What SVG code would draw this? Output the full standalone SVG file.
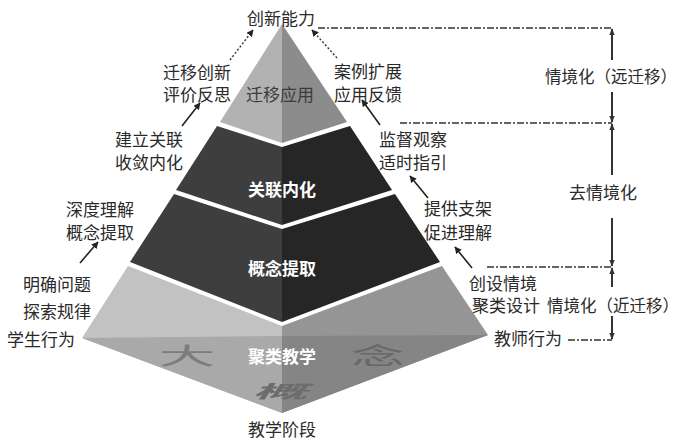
<svg xmlns="http://www.w3.org/2000/svg" width="681" height="441" viewBox="0 0 681 441">
<defs>
<style>
.t{font-family:"Noto Sans CJK SC","Noto Sans",sans-serif;font-size:17px;fill:#2a2a2a;text-anchor:middle}
.ts{text-anchor:start;font-size:16.5px}
.w{fill:#fff;font-weight:bold}
.dark{fill:#3a3a3a}
.arr{stroke:#222;stroke-width:1.6;fill:none;marker-end:url(#ah)}
.dot{stroke:#333;stroke-width:1.4;fill:none;stroke-dasharray:2 2;marker-end:url(#ah)}
.vl{stroke:#333;stroke-width:2;fill:none;marker-end:url(#vh)}
.hd{stroke:#333;stroke-width:1.6;fill:none;stroke-dasharray:7 2 2 2}
.wm{font-family:"Noto Sans CJK SC","Noto Sans",sans-serif;text-anchor:middle}
</style>
<marker id="ah" viewBox="0 0 10 10" refX="9" refY="5" markerWidth="7" markerHeight="7" orient="auto" markerUnits="userSpaceOnUse"><path d="M0,0 L10,5 L0,10 Z" fill="#222"/></marker>
<marker id="vh" viewBox="0 0 10 10" refX="9" refY="5" markerWidth="7" markerHeight="7" orient="auto" markerUnits="userSpaceOnUse"><path d="M0,1 L10,5 L0,9 Z" fill="#333"/></marker>
</defs>
<rect width="681" height="441" fill="#fff"/>

<g id="layer-base">
<polygon points="128,266 282,326 282,413 82,338" fill="#c2c2c2"/>
<polygon points="442,266 282,326 282,413 488,335" fill="#959595"/>
<polygon points="82,338 282,336 282,413" fill="#a9a9a9"/>
<polygon points="488,335 282,336 282,413" fill="#858585"/>
<text class="wm" x="0" y="0" font-size="30" fill="#7c7c7c" transform="translate(187,364) scale(1.9,0.75)">大</text>
<text class="wm" x="0" y="0" font-size="30" fill="#686868" transform="translate(378,364) scale(1.8,0.75)">念</text>
<text class="wm" x="0" y="0" font-size="22" font-weight="bold" fill="#6c6c6c" transform="translate(280,398) scale(2.5,0.8) skewX(-12)">概</text>
<text class="t w" x="282" y="363">聚类教学</text>
</g>

<g id="layer-3">
<polygon points="174,194 282,229 282,322 130,262" fill="#3e3e3e"/>
<polygon points="395,194 282,229 282,322 440,262" fill="#262626"/>
<text class="t w" x="282" y="275">概念提取</text>
</g>

<g id="layer-2">
<polygon points="217,126 282,147 282,225 176,190" fill="#3e3e3e"/>
<polygon points="350,126 282,147 282,225 392,190" fill="#262626"/>
<text class="t w" x="282" y="196">关联内化</text>
</g>

<g id="layer-1">
<polygon points="282,24 220,122 282,143" fill="#b2b2b2"/>
<polygon points="282,24 347,122 282,143" fill="#8c8c8c"/>
<text class="t dark" x="280" y="101">迁移应用</text>
</g>

<g id="connectors">
<line class="dot" x1="230" y1="60" x2="253" y2="30"/>
<line class="dot" x1="337" y1="58" x2="312" y2="30"/>
<line class="arr" x1="182" y1="126" x2="200" y2="103"/>
<line class="arr" x1="80" y1="263" x2="98" y2="242"/>
<line class="arr" x1="380" y1="125" x2="362" y2="100"/>
<line class="arr" x1="428" y1="198" x2="410" y2="176"/>
<line class="arr" x1="472" y1="268" x2="455" y2="247"/>
<line class="hd" x1="318" y1="28" x2="612" y2="28"/>
<line class="hd" x1="400" y1="123" x2="612" y2="123"/>
<line class="hd" x1="487" y1="267" x2="612" y2="267"/>
<line class="hd" x1="568" y1="340" x2="612" y2="340"/>
<line class="vl" x1="612" y1="60" x2="612" y2="29"/>
<line class="vl" x1="612" y1="92" x2="612" y2="122"/>
<line class="vl" x1="612" y1="175" x2="612" y2="124"/>
<line class="vl" x1="612" y1="218" x2="612" y2="266"/>
<line class="vl" x1="612" y1="287" x2="612" y2="268"/>
<line class="vl" x1="612" y1="316" x2="612" y2="339"/>
</g>

<g id="label-top"><text class="t" x="281" y="25">创新能力</text></g>
<g id="label-s1"><text class="t" x="197" y="79">迁移创新</text><text class="t" x="197" y="101">评价反思</text></g>
<g id="label-t1"><text class="t" x="368" y="78">案例扩展</text><text class="t" x="368" y="101">应用反馈</text></g>
<g id="label-s2"><text class="t" x="149" y="146">建立关联</text><text class="t" x="149" y="169">收敛内化</text></g>
<g id="label-t2"><text class="t" x="413" y="146">监督观察</text><text class="t" x="413" y="169">适时指引</text></g>
<g id="label-s3"><text class="t" x="100" y="216">深度理解</text><text class="t" x="100" y="239">概念提取</text></g>
<g id="label-t3"><text class="t" x="458" y="215">提供支架</text><text class="t" x="458" y="239">促进理解</text></g>
<g id="label-s4"><text class="t" x="57" y="291">明确问题</text><text class="t" x="57" y="318">探索规律</text></g>
<g id="label-t4"><text class="t" x="503" y="290">创设情境</text><text class="t" x="506" y="312">聚类设计</text></g>
<g id="label-student"><text class="t" x="41" y="346">学生行为</text></g>
<g id="label-teacher"><text class="t" x="528" y="345">教师行为</text></g>
<g id="label-stage"><text class="t" x="282" y="436">教学阶段</text></g>
<g id="label-far"><text class="t ts" x="545" y="83">情境化（远迁移）</text></g>
<g id="label-de"><text class="t" x="603" y="199">去情境化</text></g>
<g id="label-near"><text class="t ts" x="547" y="312">情境化（近迁移）</text></g>
</svg>
